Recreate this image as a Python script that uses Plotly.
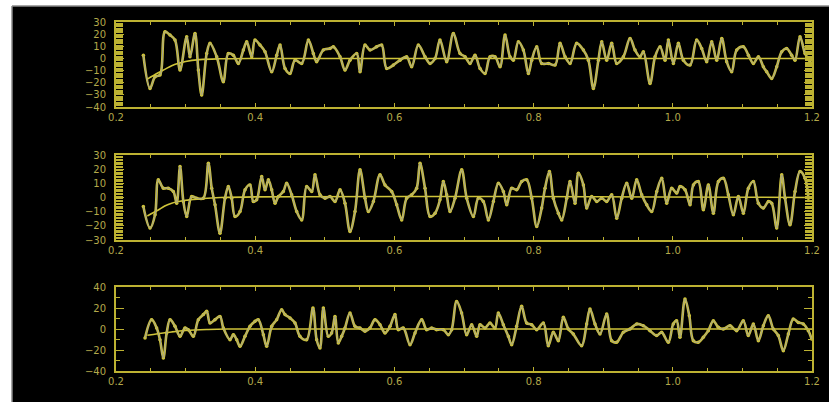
import plotly.graph_objects as go

# ---------------- data ----------------
x_tick_vals = [0.2, 0.4, 0.6, 0.8, 1.0, 1.2]
x_tick_text = ["0.2", "0.4", "0.6", "0.8", "1.0", "1.2"]

p1_y_ticks = [-40, -30, -20, -10, 0, 10, 20, 30]
p2_y_ticks = [-30, -20, -10, 0, 10, 20, 30]
p3_y_ticks = [-40, -20, 0, 20, 40]

p1_x = [0.2393, 0.2489, 0.2561, 0.2632, 0.2704, 0.2776, 0.2848, 0.2920, 0.3016, 0.3063,
        0.3135, 0.3183, 0.3231, 0.3303, 0.3351, 0.3447, 0.3542, 0.3614, 0.3686, 0.3758,
        0.3830, 0.3878, 0.3950, 0.3997, 0.4069, 0.4141, 0.4237, 0.4309, 0.4357, 0.4428,
        0.4500, 0.4572, 0.4668, 0.4764, 0.4835, 0.4883, 0.4979, 0.5075, 0.5123, 0.5219,
        0.5290, 0.5362, 0.5458, 0.5506, 0.5578, 0.5650, 0.5745, 0.5817, 0.5889, 0.5985,
        0.6081, 0.6176, 0.6248, 0.6344, 0.6440, 0.6512, 0.6584, 0.6655, 0.6751, 0.6847,
        0.6943, 0.7015, 0.7087, 0.7158, 0.7230, 0.7302, 0.7374, 0.7446, 0.7518, 0.7590,
        0.7661, 0.7709, 0.7781, 0.7853, 0.7925, 0.7973, 0.8045, 0.8116, 0.8212, 0.8308,
        0.8380, 0.8452, 0.8524, 0.8619, 0.8715, 0.8787, 0.8859, 0.8931, 0.8979, 0.9050,
        0.9122, 0.9194, 0.9290, 0.9386, 0.9457, 0.9529, 0.9577, 0.9673, 0.9745, 0.9817,
        0.9889, 0.9936, 1.0008, 1.0080, 1.0152, 1.0248, 1.0343, 1.0415, 1.0487, 1.0559,
        1.0631, 1.0703, 1.0774, 1.0846, 1.0918, 1.1014, 1.1086, 1.1158, 1.1230, 1.1301,
        1.1349, 1.1421, 1.1493, 1.1565, 1.1636, 1.1708, 1.1756, 1.1828, 1.1900, 1.1972]
p1_y = [2.7, -24.7, -15.1, -13.7, 22.0, 19.2, 15.1, -9.6, 17.8, 1.4,
        20.6, -9.6, -30.2, 4.1, 12.4, 1.4, -19.2, 4.1, 2.7, -4.1,
        6.9, 13.7, 1.4, 15.1, 11.0, 5.5, -11.0, 2.7, 11.0, -8.2,
        -12.4, -1.4, -4.1, 15.1, 4.1, -2.7, 6.9, 8.2, 9.6, 1.4,
        -9.6, -1.4, 4.1, -11.0, 11.0, 6.9, 9.6, 11.0, -8.2, -5.5,
        -1.4, 1.4, -6.9, 11.0, 1.4, -4.1, 0.0, 15.1, -2.7, 20.6,
        4.1, 1.4, -4.1, 2.7, -8.2, -12.4, 1.4, 1.4, -6.9, 19.2,
        1.4, -1.4, 13.7, 6.9, -12.4, -1.4, 9.6, -4.1, -4.1, -5.5,
        12.4, 1.4, -4.1, 12.4, 6.9, -1.4, -24.7, -1.4, 13.7, -1.4,
        12.4, -4.1, 1.4, 16.5, 6.9, 1.4, 5.5, -20.6, 1.4, 9.6,
        -1.4, 15.1, -4.1, 12.4, -1.4, -5.5, 15.1, 8.2, -2.7, 13.7,
        -1.4, 16.5, -2.7, -11.0, 6.9, 9.6, 2.7, -4.1, 1.4, -6.9,
        -11.0, -16.5, -6.9, 5.5, 8.2, 2.7, -1.4, 17.8, 4.1, -2.7]
p1_fit_x = [0.245, 0.26, 0.27, 0.28, 0.29, 0.30, 0.32, 0.35, 0.40, 1.20]
p1_fit_y = [-17.0, -12.0, -9.0, -6.0, -4.0, -2.5, -1.0, -0.3, 0.0, 0.0]

p2_x = [0.2393, 0.2489, 0.2561, 0.2608, 0.2680, 0.2752, 0.2824, 0.2872, 0.2920, 0.2968,
        0.3016, 0.3087, 0.3159, 0.3255, 0.3327, 0.3375, 0.3423, 0.3494, 0.3566, 0.3614,
        0.3662, 0.3710, 0.3782, 0.3854, 0.3925, 0.3973, 0.4021, 0.4093, 0.4141, 0.4189,
        0.4237, 0.4285, 0.4333, 0.4404, 0.4452, 0.4524, 0.4596, 0.4668, 0.4740, 0.4812,
        0.4859, 0.4931, 0.5003, 0.5075, 0.5147, 0.5219, 0.5290, 0.5362, 0.5434, 0.5506,
        0.5578, 0.5626, 0.5698, 0.5793, 0.5865, 0.5961, 0.6033, 0.6105, 0.6176, 0.6248,
        0.6320, 0.6368, 0.6440, 0.6512, 0.6584, 0.6655, 0.6703, 0.6751, 0.6799, 0.6871,
        0.6967, 0.7039, 0.7135, 0.7206, 0.7278, 0.7350, 0.7422, 0.7494, 0.7566, 0.7614,
        0.7685, 0.7757, 0.7829, 0.7901, 0.7973, 0.8045, 0.8116, 0.8164, 0.8227, 0.8284,
        0.8356, 0.8404, 0.8476, 0.8523, 0.8595, 0.8643, 0.8715, 0.8763, 0.8835, 0.8907,
        0.8979, 0.9050, 0.9122, 0.9194, 0.9266, 0.9338, 0.9410, 0.9481, 0.9553, 0.9625,
        0.9697, 0.9769, 0.9841, 0.9912, 0.9984, 1.0056, 1.0104, 1.0176, 1.0248, 1.0296,
        1.0367, 1.0439, 1.0511, 1.0583, 1.0655, 1.0727, 1.0798, 1.0870, 1.0942, 1.1014,
        1.1086, 1.1158, 1.1229, 1.1301, 1.1373, 1.1421, 1.1493, 1.1565, 1.1613, 1.1684,
        1.1756, 1.1828, 1.1900, 1.1948]
p2_y = [-6.4, -21.6, -12.2, 12.5, 6.6, 6.6, 4.2, -4.0, 21.9, -2.8,
        -13.4, 0.7, -0.5, -0.5, 24.2, 6.6, -5.2, -25.2, -0.5, 7.8,
        -0.5, -13.4, -9.9, 5.4, 8.9, -2.8, -1.6, 14.8, 5.4, 12.5,
        5.4, -4.0, 0.7, 4.2, 10.1, 1.9, -9.9, -15.8, 7.8, 4.2,
        16.0, 1.9, -0.5, 0.7, -2.8, 5.4, -4.0, -24.0, -9.9, 19.5,
        -0.5, -9.9, -2.8, 16.0, 8.9, 4.2, -5.2, -15.8, -0.5, 1.9,
        6.6, 24.2, 6.6, -13.4, -11.1, -1.6, 11.3, 1.9, -9.9, -0.5,
        19.5, -0.5, -13.4, -0.5, -2.8, -15.8, -2.8, 10.1, 4.2, -5.2,
        6.6, 5.4, 11.3, 12.5, -0.5, -20.5, -7.5, 6.6, 18.4, -0.5,
        -11.1, -15.8, -0.5, 11.3, -4.0, 17.2, 8.9, -7.5, 0.7, -2.8,
        -0.5, -2.8, 1.9, -14.6, -0.5, 10.1, -0.5, 12.5, 1.9, -5.2,
        -9.9, 4.2, 13.6, -4.0, 6.6, 3.1, 7.8, 5.4, -5.2, 8.9,
        11.3, -8.7, 8.9, -11.1, 11.3, 13.6, 1.9, -12.2, 0.7, -11.1,
        6.6, 11.3, -4.0, -7.5, -2.8, -4.0, -21.6, 16.0, -0.5, -19.3,
        4.2, 18.4, 13.6, -0.5]
p2_fit_x = [0.245, 0.26, 0.27, 0.28, 0.30, 0.32, 0.35, 1.20]
p2_fit_y = [-13.0, -9.0, -6.0, -4.0, -2.0, -1.0, 0.0, 0.0]

p3_x = [0.2417, 0.2512, 0.2584, 0.2632, 0.2680, 0.2728, 0.2776, 0.2848, 0.2920, 0.2991,
        0.3039, 0.3111, 0.3183, 0.3255, 0.3303, 0.3351, 0.3422, 0.3494, 0.3542, 0.3638,
        0.3686, 0.3734, 0.3782, 0.3853, 0.3925, 0.3997, 0.4045, 0.4117, 0.4165, 0.4237,
        0.4308, 0.4380, 0.4428, 0.4500, 0.4572, 0.4643, 0.4739, 0.4830, 0.4883, 0.4931,
        0.4979, 0.5050, 0.5098, 0.5146, 0.5194, 0.5242, 0.5290, 0.5362, 0.5434, 0.5505,
        0.5577, 0.5649, 0.5721, 0.5793, 0.5865, 0.5937, 0.6008, 0.6056, 0.6128, 0.6224,
        0.6296, 0.6392, 0.6463, 0.6535, 0.6607, 0.6703, 0.6775, 0.6823, 0.6894, 0.6966,
        0.7038, 0.7110, 0.7182, 0.7230, 0.7301, 0.7373, 0.7445, 0.7493, 0.7565, 0.7637,
        0.7685, 0.7756, 0.7828, 0.7900, 0.7972, 0.8044, 0.8140, 0.8211, 0.8283, 0.8355,
        0.8427, 0.8499, 0.8571, 0.8690, 0.8762, 0.8810, 0.8882, 0.8954, 0.9050, 0.9121,
        0.9193, 0.9289, 0.9385, 0.9481, 0.9576, 0.9672, 0.9768, 0.9840, 0.9936, 1.0007,
        1.0055, 1.0103, 1.0175, 1.0237, 1.0295, 1.0367, 1.0438, 1.0510, 1.0582, 1.0654,
        1.0726, 1.0822, 1.0917, 1.1013, 1.1085, 1.1157, 1.1229, 1.1301, 1.1372, 1.1444,
        1.1516, 1.1588, 1.1660, 1.1731, 1.1803, 1.1875, 1.1947, 1.1995]
p3_y = [-8.6, 8.9, 1.0, -10.2, -27.6, -3.8, 8.9, 2.5, -7.0, 1.0,
        -0.6, -7.0, 8.9, 13.7, 16.8, 5.7, 8.9, 12.0, 1.0, -10.2,
        -5.4, -10.2, -16.5, -7.0, 2.5, 7.3, 8.9, -5.4, -16.5, 2.5,
        8.9, 18.4, 13.7, 10.5, 5.7, -7.0, -10.2, 20.0, -10.2, -18.1,
        20.0, -7.0, -3.8, 12.0, -13.3, -7.0, 1.0, 15.2, 2.5, 1.0,
        -2.2, 1.0, 8.9, 4.1, -3.8, 2.5, 13.7, -0.6, 1.0, -14.9,
        -3.8, 8.9, -0.6, 1.0, -0.6, -0.6, -5.4, -0.6, 26.3, 15.2,
        -5.4, 4.1, -7.0, 4.1, 1.0, 5.7, 1.0, 15.2, 4.1, -7.0,
        -14.9, 2.5, 21.6, 5.7, 4.1, -0.6, 5.7, -16.0, -3.2, -11.1,
        11.1, 0.0, -4.8, -15.9, 4.8, 19.0, 4.8, -4.8, 14.3, -11.1,
        -12.7, -3.2, 0.0, 4.8, 3.2, -1.6, -6.3, -3.2, -12.7, 4.8,
        7.9, -7.9, 28.6, 12.7, -11.1, -12.7, -7.9, -1.6, 7.9, 1.6,
        0.0, 3.2, -1.6, 7.9, -6.3, 4.8, -11.1, 3.2, 12.7, 0.0,
        -6.3, -20.6, -4.8, 9.5, 6.3, 4.8, -1.6, -9.5]
p3_fit_x = [0.245, 0.26, 0.28, 0.30, 0.33, 0.36, 1.20]
p3_fit_y = [-6.0, -4.5, -2.8, -1.5, -0.5, 0.0, 0.0]

# ---------------- styling / layout ----------------
W, H = 829, 402
YELLOW = "#cfc43a"
AXIS = "#bdb232"
GREY = "#a3a290"
LABEL = "#b3a84a"


def px_dom_x(a, b):
    return [a / W, b / W]


def px_dom_y(top, bottom):
    return [1 - bottom / H, 1 - top / H]


panels = [
    dict(x=p1_x, y=p1_y, fx=p1_fit_x, fy=p1_fit_y, yr=[-40, 30], yt=p1_y_ticks,
         dom=px_dom_y(22, 107), minor=1, mlen=7),
    dict(x=p2_x, y=p2_y, fx=p2_fit_x, fy=p2_fit_y, yr=[-30, 30], yt=p2_y_ticks,
         dom=px_dom_y(155, 240), minor=1, mlen=7),
    dict(x=p3_x, y=p3_y, fx=p3_fit_x, fy=p3_fit_y, yr=[-40, 40], yt=p3_y_ticks,
         dom=px_dom_y(287, 371), minor=10, mlen=4),
]

fig = go.Figure()
layout = dict(
    width=W, height=H,
    margin=dict(l=0, r=0, t=0, b=0),
    paper_bgcolor="black", plot_bgcolor="black",
    showlegend=False,
    template="none",
    font=dict(family="DejaVu Sans", size=10, color=LABEL),
)

for i, p in enumerate(panels):
    n = "" if i == 0 else str(i + 1)
    xa, ya = "x" + n, "y" + n
    fig.add_trace(go.Scatter(x=p["fx"], y=p["fy"], xaxis=xa, yaxis=ya, mode="lines",
                             line=dict(color=YELLOW, width=1.6, shape="spline")))
    fig.add_trace(go.Scatter(x=p["x"], y=p["y"], xaxis=xa, yaxis=ya, mode="lines+markers",
                             line=dict(color=YELLOW, width=2.6, shape="spline"),
                             marker=dict(color=YELLOW, size=3.5)))
    fig.add_trace(go.Scatter(x=p["x"], y=p["y"], xaxis=xa, yaxis=ya, mode="lines",
                             line=dict(color=GREY, width=1, shape="spline")))
    layout["xaxis" + n] = dict(
        domain=px_dom_x(116, 812), anchor=ya, range=[0.2, 1.2],
        tickvals=x_tick_vals, ticktext=x_tick_text,
        ticks="inside", ticklen=4, tickcolor=AXIS, tickwidth=1,
        minor=dict(dtick=0.05, tick0=0.2, ticks="inside", ticklen=3, tickcolor=AXIS),
        showline=True, linecolor=AXIS, linewidth=2, mirror="allticks",
        showgrid=False, zeroline=False, automargin=False,
        tickfont=dict(size=10, color=LABEL),
    )
    layout["yaxis" + n] = dict(
        domain=p["dom"], anchor=xa, range=p["yr"],
        tickvals=p["yt"],
        ticks="inside", ticklen=8, tickcolor=AXIS, tickwidth=1,
        minor=dict(dtick=p["minor"], tick0=0, ticks="inside", ticklen=p["mlen"],
                   tickcolor=AXIS, tickwidth=1),
        showline=True, linecolor=AXIS, linewidth=2, mirror="allticks",
        showgrid=False, zeroline=False, automargin=False,
        ticklabelstandoff=6,
        tickfont=dict(size=10, color=LABEL),
    )

fig.update_layout(**layout)

# white strips at the top and left edge of the captured window
fig.add_shape(type="rect", xref="paper", yref="paper", x0=0, x1=12 / W, y0=0, y1=1,
              fillcolor="white", line=dict(width=0), layer="above")
fig.add_shape(type="rect", xref="paper", yref="paper", x0=0, x1=1, y0=1 - 6 / H, y1=1,
              fillcolor="white", line=dict(width=0), layer="above")
fig.add_shape(type="line", xref="paper", yref="paper", x0=12 / W, x1=12 / W, y0=0, y1=1 - 6 / H,
              line=dict(color="#8a8a8a", width=1.5), layer="above")
fig.add_shape(type="line", xref="paper", yref="paper", x0=12 / W, x1=1, y0=1 - 6 / H, y1=1 - 6 / H,
              line=dict(color="#8a8a8a", width=1.5), layer="above")

fig.write_html("out.html",
               config={"displayModeBar": False},
               post_script="document.body.style.margin='0';document.body.style.overflow='hidden';")
